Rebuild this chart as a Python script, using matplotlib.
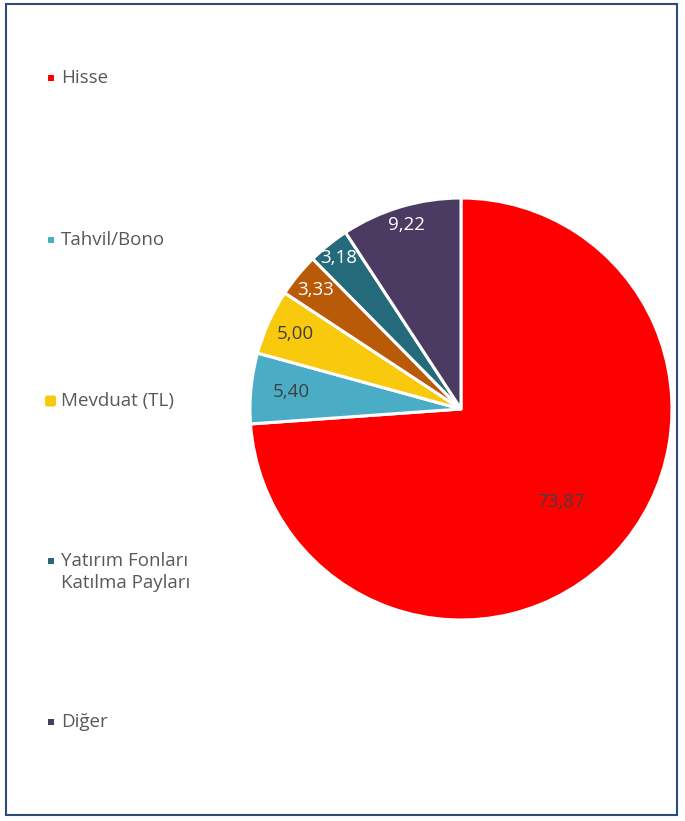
import matplotlib
matplotlib.use("Agg")
import matplotlib.pyplot as plt
from matplotlib.patches import Rectangle, FancyBboxPatch
import numpy as np

plt.rcParams['font.family'] = ['Open Sans', 'DejaVu Sans']

values = [73.87, 5.40, 5.00, 3.33, 3.18, 9.22]
value_labels = ["73,87", "5,40", "5,00", "3,33", "3,18", "9,22"]
colors = ["#FF0000", "#4BACC6", "#F8C90C", "#B85A08", "#256A7A", "#4B3A62"]
label_colors = ["#404040", "#404040", "#404040", "#FFFFFF", "#FFFFFF", "#FFFFFF"]
label_radius = [0.65, 0.81, 0.86, 0.89, 0.92, 0.91]

legend_names = ["Hisse", "Tahvil/Bono", "Mevduat (TL)", "Yatırım Fonları\nKatılma Payları", "Diğer"]
legend_colors = ["#FF0000", "#4BACC6", "#F8C90C", "#256A7A", "#4B3A62"]

W, H = 685, 821
fig = plt.figure(figsize=(W/100, H/100), dpi=100)

# border
fig.patches.append(Rectangle((6/W, (H-815)/H), 671/W, 811/H, transform=fig.transFigure,
                             fill=False, edgecolor="#2E4A7D", linewidth=1.5))

cx, cy, r = 461, 409, 211
ax = fig.add_axes([(cx-r)/W, (H-cy-r)/H, 2*r/W, 2*r/H])
wedges, _ = ax.pie(values, colors=colors, startangle=90, counterclock=False,
                   wedgeprops=dict(edgecolor="white", linewidth=2.2), radius=1)
for w, lab, lc, lr in zip(wedges, value_labels, label_colors, label_radius):
    ang = np.deg2rad((w.theta1 + w.theta2) / 2)
    ax.text(lr*np.cos(ang), lr*np.sin(ang), lab, ha="center", va="center",
            fontsize=13.5, color=lc, zorder=5)
ax.set_xlim(-1, 1)
ax.set_ylim(-1, 1)
ax.set_aspect("equal")
ax.axis("off")

# legend
ys = [78, 240, 401, 561, 722]
for i, (name, col, y) in enumerate(zip(legend_names, legend_colors, ys)):
    if i == 2:
        s = 11
        fig.patches.append(FancyBboxPatch(((45)/W, (H-y-s/2)/H), s/W, s/H,
                                          boxstyle="round,pad=0,rounding_size=0.003",
                                          transform=fig.transFigure, facecolor=col, edgecolor="none"))
    else:
        s = 6
        fig.patches.append(Rectangle(((51-s/2)/W, (H-y-s/2)/H), s/W, s/H,
                                     transform=fig.transFigure, facecolor=col, edgecolor="none"))
    lines = name.split("\n")
    for k, line in enumerate(lines):
        fig.text(61/W, (H-y-22*k)/H, line, ha="left", va="center",
                 fontsize=13.5, color="#595959")

fig.savefig("out.png", dpi=100)
